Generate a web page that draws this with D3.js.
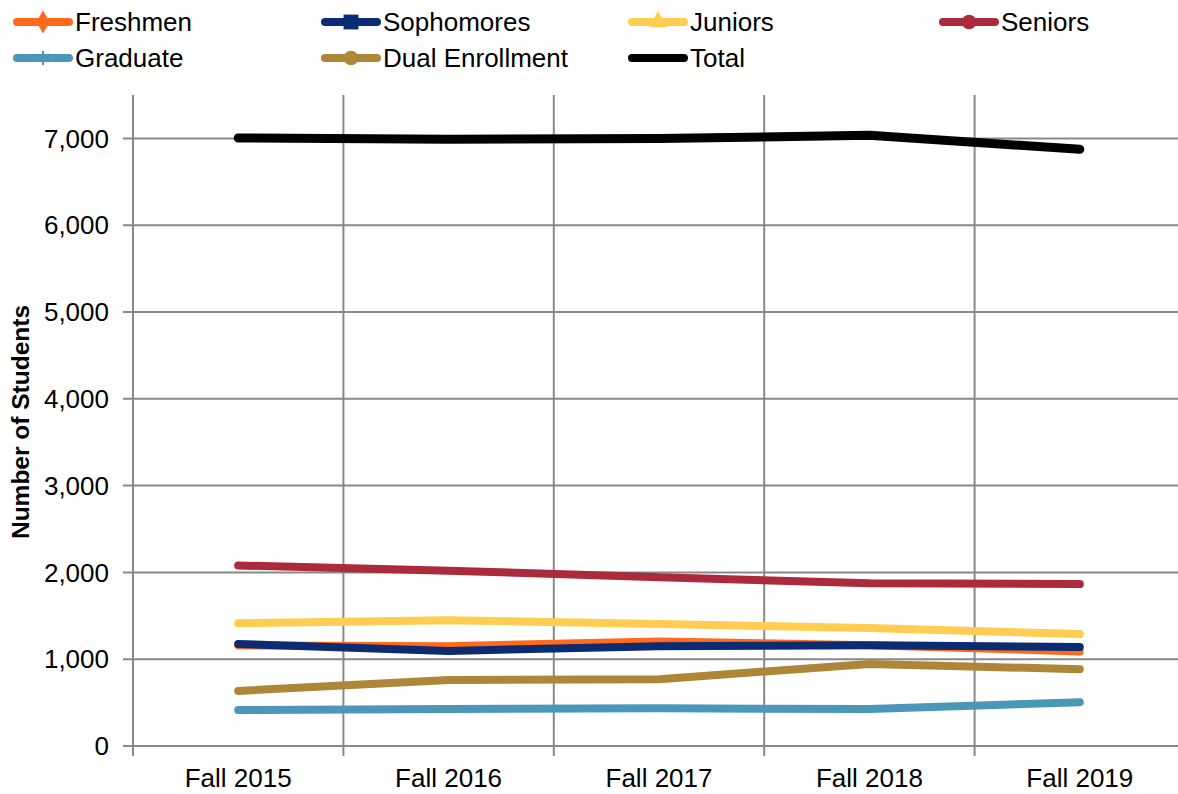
<!doctype html>
<html lang="en">
<head>
<meta charset="UTF-8">
<title>Enrollment by class</title>
<script src="https://cdn.jsdelivr.net/npm/d3@7"></script>
<style>
  body { margin: 0; background: #fff; }
  text { font-family: "Liberation Sans", Arial, sans-serif; fill: #000; }
</style>
</head>
<body>
<script>
var categories = ["Fall 2015", "Fall 2016", "Fall 2017", "Fall 2018", "Fall 2019"];
var yTicks = [0, 1000, 2000, 3000, 4000, 5000, 6000, 7000];

var freshmen   = [1160, 1150, 1205, 1160, 1090];
var sophomores = [1175, 1095, 1150, 1160, 1140];
var juniors    = [1415, 1450, 1405, 1360, 1290];
var seniors    = [2080, 2020, 1945, 1875, 1865];
var graduate   = [415, 425, 435, 425, 505];
var dual       = [635, 760, 770, 945, 885];
var total      = [7005, 6990, 7000, 7035, 6875];

var seriesNames = ["Freshmen", "Sophomores", "Juniors", "Seniors", "Graduate", "Dual Enrollment", "Total"];
var seriesValues = [freshmen, sophomores, juniors, seniors, graduate, dual, total];
var colors = ["#ff6a1c", "#0b2b73", "#ffcd52", "#ab2a3b", "#4a97b8", "#ad8638", "#000000"];
var markers = ["diamond", "square", "triangle", "circle", "star", "circle", "none"];

var W = 1178, H = 794;
var margin = { left: 133, right: 1185, top: 95, bottom: 746 };

var svg = d3.select("body").append("svg").attr("width", W).attr("height", H);

var x = d3.scaleBand().domain(categories).range([margin.left, margin.right]);
var y = d3.scaleLinear().domain([0, 7500]).range([margin.bottom, margin.top]);

// horizontal grid
svg.append("g").selectAll("line").data(yTicks).enter().append("line")
  .attr("x1", margin.left - 10).attr("x2", margin.right)
  .attr("y1", function(d) { return y(d); }).attr("y2", function(d) { return y(d); })
  .attr("stroke", "#898989").attr("stroke-width", 2);

// vertical grid at category boundaries
var bounds = categories.map(function(c) { return x(c); }).concat([x(categories[4]) + x.bandwidth()]);
svg.append("g").selectAll("line").data(bounds).enter().append("line")
  .attr("x1", function(d) { return d; }).attr("x2", function(d) { return d; })
  .attr("y1", margin.top).attr("y2", margin.bottom + 10)
  .attr("stroke", "#898989").attr("stroke-width", 2);

// y labels
svg.append("g").selectAll("text").data(yTicks).enter().append("text")
  .attr("x", margin.left - 24).attr("y", function(d) { return y(d); })
  .attr("dy", "0.35em").attr("text-anchor", "end")
  .style("font-size", "26px")
  .text(function(d) { return d3.format(",")(d); });

// x labels
svg.append("g").selectAll("text").data(categories).enter().append("text")
  .attr("x", function(d) { return x(d) + x.bandwidth() / 2; })
  .attr("y", 787).attr("text-anchor", "middle")
  .style("font-size", "26px")
  .text(function(d) { return d; });

svg.append("text")
  .attr("transform", "translate(29,422) rotate(-90)")
  .attr("text-anchor", "middle")
  .style("font-size", "24.5px").style("font-weight", "bold")
  .text("Number of Students");

var line = d3.line()
  .x(function(d, i) { return x(categories[i]) + x.bandwidth() / 2; })
  .y(function(d) { return y(d); });

// draw in reverse so Freshmen ends up under Sophomores like the original
var order = [6, 5, 4, 3, 2, 0, 1];
order.forEach(function(k) {
  svg.append("path")
    .datum(seriesValues[k])
    .attr("d", line)
    .attr("fill", "none")
    .attr("stroke", colors[k])
    .attr("stroke-width", k === 6 ? 9 : 8)
    .attr("stroke-linecap", "round")
    .attr("stroke-linejoin", "round");
});

// legend
var legendPos = [
  [13, 22], [321, 22], [628, 22], [939, 22],
  [13, 58], [321, 58], [628, 58]
];
var lg = svg.append("g").selectAll("g").data(seriesNames).enter().append("g")
  .attr("transform", function(d, i) { return "translate(" + legendPos[i][0] + "," + legendPos[i][1] + ")"; });

lg.append("line")
  .attr("x1", 4).attr("x2", 56).attr("y1", 0).attr("y2", 0)
  .attr("stroke", function(d, i) { return colors[i]; })
  .attr("stroke-width", 8).attr("stroke-linecap", "round");

lg.each(function(d, i) {
  var g = d3.select(this), m = markers[i], c = colors[i];
  if (m === "none") return;
  if (m === "star") {
    g.append("path").attr("d", d3.symbol().type(d3.symbolAsterisk).size(140)())
      .attr("transform", "translate(30,0)").attr("stroke", c).attr("stroke-width", 2).attr("fill", "none");
    return;
  }
  var sym = { diamond: d3.symbolDiamond, square: d3.symbolSquare, triangle: d3.symbolTriangle, circle: d3.symbolCircle }[m];
  var sz = m === "square" ? 220 : m === "circle" ? 170 : 150;
  g.append("path").attr("d", d3.symbol().type(sym).size(sz)())
    .attr("transform", "translate(30,0)").attr("fill", c);
});

lg.append("text")
  .attr("x", 62).attr("y", 0).attr("dy", "0.35em")
  .style("font-size", "26px")
  .text(function(d) { return d; });
</script>
</body>
</html>
